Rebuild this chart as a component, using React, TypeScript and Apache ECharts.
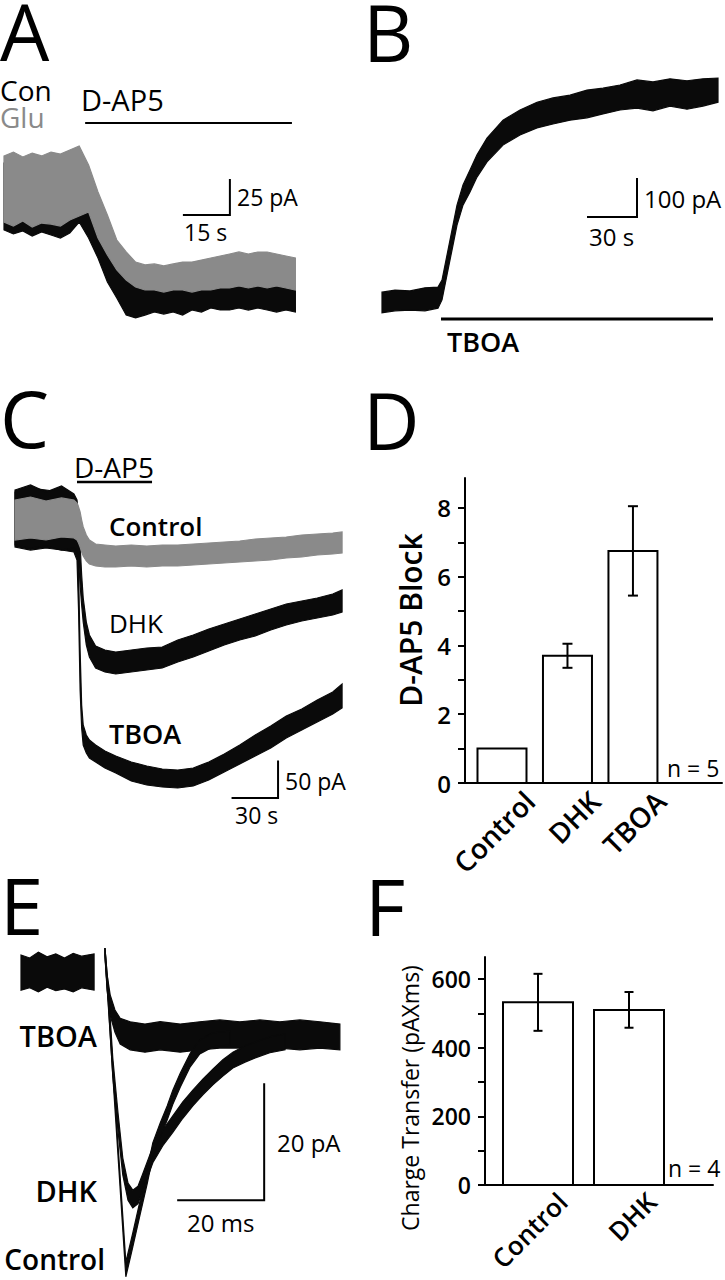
import { useEffect, useRef } from 'react';
import * as echarts from 'echarts';

// ---------- Panel A (time in s, current in pA) ----------
const tA = [0,3,6,9,12,15,18,21,24,27,30,33,36,39,42,45,48,51,54,57,60,63,66,69,72,75,78,81,84,87,90,93];
const gluHiA = [30.6,33.3,29.9,32.6,30.6,33.3,31.9,34.7,37.5,24.3,5.6,-10.4,-27.8,-36.1,-43.1,-45.1,-44.4,-45.8,-44.4,-43.1,-43.1,-41.7,-40.3,-38.9,-37.5,-36.1,-37.5,-36.1,-36.1,-37.5,-38.9,-40.3];
const gluLoA = [-15.3,-18.1,-14.6,-18.8,-16,-16.7,-18.1,-13.9,-11.1,-8.3,-26.4,-38.2,-48.6,-55.6,-60.4,-62.5,-62.5,-63.9,-62.5,-62.5,-63.9,-62.5,-62.5,-61.1,-61.1,-59.7,-61.1,-59.7,-61.1,-59.7,-61.1,-62.5];
const conHiA = [25.7,27.8,25,28.5,26.4,29.2,27.1,25,13.9,1.4,-12.5,-26.4,-40.3,-52.1,-58.3,-61.1,-62.5,-63.9,-62.5,-62.5,-61.1,-62.5,-59.7,-61.1,-59,-59.7,-59.7,-58.3,-59.7,-59,-59.7,-61.1];
const conLoA = [-20.8,-23.6,-21.5,-25,-22.2,-24.3,-26.4,-22.9,-15.3,-26.4,-40.3,-56.9,-68.1,-79.9,-81.9,-79.9,-77.8,-79.2,-77.8,-79.9,-76.4,-77.8,-75,-76.4,-76.4,-75,-76.4,-75,-76.4,-77.8,-76.4,-77.8];
const dap5A = [25.9, 91.9];
const dap5LevelA = 53.5;
const scaleA = { t: 72.1, i: -10.4, dt: 15, di: 25 };

// ---------- Panel B ----------
const tB = [0,7.8,16.8,25.8,33.6,36,39,42,45,48.6,52.8,57,63,72.6,82.8,93,102.6,112.8,123,132.6,142.8,153,162.6,172.8,183,192.6,201.6];
const tboaHiB = [33,38,36,44,46,64,128,192,256,308,346,385,428,474,500,520,531,538,551,556,564,577,572,580,575,580,582];
const tboaLoB = [-20,-15,-13,-15,-8,13,77,141,205,256,290,328,367,410,436,454,464,474,480,490,500,505,498,510,502,510,520];
const tboaBarB = [35.4, 198.6];
const tboaLevelB = -35.9;
const scaleB = { t: 153, i: 225.6, dt: 30, di: 100 };

// ---------- Panel C ----------
const tC = [0,10,20,30,38,40,41,42,43,44,46,48,52,58,65,75,85,95,105,115,125,135,145,155,165,175,185,195,205,211];
const ctrlHiC = [20,24,18.7,22.7,20,16,10.7,4,-6.7,-16,-26.7,-33.3,-38.7,-40,-41.3,-40,-41.3,-40,-40,-38.7,-37.3,-36,-34.7,-32,-30.7,-29.3,-26.7,-25.3,-24,-22.7];
const ctrlLoC = [-33.3,-30.7,-33.3,-29.3,-30.7,-33.3,-37.3,-42.7,-49.3,-54.7,-61.3,-65.3,-68,-69.3,-69.3,-68,-69.3,-68,-68,-66.7,-65.3,-64,-62.7,-61.3,-60,-57.3,-56,-53.3,-52,-50.7];
const dhkHiC = [33.3,40,30.7,38.7,28,20,0,-40,-80,-110.7,-142.7,-160,-174.7,-180,-182.7,-180,-177.3,-176,-166.7,-160,-152,-145.3,-138.7,-132,-125.3,-118.7,-114.7,-110.7,-105.3,-100];
const dhkLoC = [-40,-44,-41.3,-46.7,-44,-49.3,-60,-93.3,-120,-142.7,-173.3,-189.3,-204,-209.3,-212,-209.3,-206.7,-204,-196,-189.3,-181.3,-173.3,-166.7,-161.3,-153.3,-146.7,-141.3,-137.3,-133.3,-129.3];
const tboaHiC = [30.7,36,33.3,30.7,25.3,6.7,-73.3,-180,-253.3,-280,-293.3,-300,-306.7,-314.7,-321.3,-329.3,-334.7,-338.7,-340,-337.3,-329.3,-318.7,-306.7,-293.3,-281.3,-268,-258.7,-246.7,-236,-225.3];
const tboaLoC = [-42.7,-46.7,-44,-46.7,-49.3,-60,-126.7,-233.3,-284,-306.7,-317.3,-324,-329.3,-337.3,-344,-354.7,-360,-362.7,-364,-361.3,-353.3,-342.7,-332,-321.3,-310.7,-297.3,-286.7,-276,-265.3,-257.3];
const dap5C = [40, 88.4];
const dap5LevelC = 44;
const scaleC = { t: 169.7, i: -377.3, dt: 30, di: 50 };

// ---------- Panel D ----------
const catsD = ['Control', 'DHK', 'TBOA'];
const blockMean = [1.0, 3.7, 6.75];
const blockSem = [0, 0.35, 1.3];
const ticksD = [0,1,2,3,4,5,6,7,8];
const labelsD = [0,2,4,6,8];

// ---------- Panel E (time in ms, current in pA) ----------
const tBaseE = [0,2,4,6,8,10,12,14,16.8];
const baseHiE = [2.9,2.4,3.4,2.6,3.1,2.4,3.2,2.7,3.1];
const baseLoE = [-3.1,-2.7,-3.4,-2.6,-3.2,-2.9,-3.4,-2.7,-3.1];
const tCtrlE = [19.3,24.1,25.7,27.4,29.0,30.3,32.0,33.6,34.9,36.6,38.9,41.1,44.1,48.0];
const ctrlHiE = [4.1,-49.6,-44.6,-39.0,-33.8,-29.2,-25.8,-22.9,-20.2,-17.3,-13.9,-11.6,-10.4,-10.1];
const ctrlLoE = [3.1,-52.1,-47.0,-41.4,-36.2,-31.6,-28.2,-25.3,-22.6,-19.7,-16.2,-14.0,-12.8,-12.5];
const tDhkE = [19.3,20.0,21.1,22.3,23.4,24.6,25.7,26.9,28.0,30.3,32.6,34.9,37.2,39.5,41.8,44.1,46.4,48.7,51.5,54.5,57.2,60.7];
const dhkHiE = [4.1,-2.1,-14.7,-24.1,-31.8,-36.1,-37.3,-36.6,-34.5,-29.9,-27.0,-24.6,-22.2,-20.2,-18.3,-16.6,-15.0,-13.7,-12.6,-11.8,-11.1,-10.6];
const dhkLoE = [2.7,-4.4,-17.8,-27.2,-34.7,-39.0,-40.3,-39.6,-37.3,-32.6,-29.7,-27.4,-25.0,-22.9,-21.0,-19.3,-17.8,-16.4,-15.4,-14.5,-13.8,-13.3];
const tTboaE = [19.3,19.8,20.5,21.6,22.8,25.1,28.5,32.0,36.6,41.1,45.7,50.3,54.9,59.5,64.1,68.7,73.3];
const tboaHiE = [4.1,-0.5,-3.9,-6.5,-7.9,-8.5,-8.9,-8.5,-8.9,-8.5,-8.2,-8.5,-8.2,-8.5,-8.2,-8.5,-8.9];
const tboaLoE = [2.7,-3.1,-7.4,-10.3,-12.3,-13.3,-13.7,-13.3,-13.7,-13.3,-13.0,-13.0,-13.3,-13.0,-13.3,-13.0,-13.3];
const scaleE = { t: 55.9, i: -39, dt: 20, di: 20 };

// ---------- Panel F ----------
const catsF = ['Control', 'DHK'];
const chargeMean = [532, 510];
const chargeSem = [83, 52];
const ticksF = [0,100,200,300,400,500,600];
const labelsF = [0,200,400,600];

const FONT = "'Open Sans', 'Noto Sans', sans-serif";
const BLACK = '#0a0a0a';
const GRAY = '#8a8a8a';

function band(idx: number, t: number[], lo: number[], hi: number[], color: string, z: number) {
  const data = t.map((v, i) => [v, lo[i], hi[i]]);
  return {
    type: 'custom', xAxisIndex: idx, yAxisIndex: idx, data, z, silent: true,
    encode: { x: 0, y: [1, 2] },
    renderItem: (params: any, api: any) => {
      if (params.dataIndex !== 0) return null;
      const top = data.map((d) => api.coord([d[0], d[2]]));
      const bot = data.map((d) => api.coord([d[0], d[1]])).reverse();
      return {
        type: 'polygon',
        shape: { points: top.concat(bot) },
        style: { fill: color, stroke: color, lineWidth: 1.2, lineJoin: 'miter' },
      };
    },
  };
}

function poly(idx: number, pts: number[][], width: number, z = 10) {
  return {
    type: 'line', xAxisIndex: idx, yAxisIndex: idx, data: pts, symbol: 'none', silent: true, z,
    lineStyle: { color: '#000', width, cap: 'butt', join: 'miter' },
  };
}

function scaleBar(idx: number, s: { t: number; i: number; dt: number; di: number }) {
  return poly(idx, [[s.t - s.dt, s.i], [s.t, s.i], [s.t, s.i + s.di]], 2);
}

function bars(idx: number, mean: number[], w: number) {
  return {
    type: 'custom', xAxisIndex: idx, yAxisIndex: idx, silent: true, z: 5,
    data: mean.map((v, i) => [i + 1, v]),
    renderItem: (_p: any, api: any) => {
      const x = api.value(0), v = api.value(1);
      const p0 = api.coord([x, 0]);
      const p1 = api.coord([x, v]);
      return {
        type: 'rect',
        shape: { x: p0[0] - w / 2, y: p1[1], width: w, height: p0[1] - p1[1] },
        style: { fill: '#fff', stroke: '#000', lineWidth: 2 },
      };
    },
  };
}

function errBars(idx: number, mean: number[], sem: number[], cap: number) {
  return {
    type: 'custom', xAxisIndex: idx, yAxisIndex: idx, silent: true, z: 6,
    data: mean.map((v, i) => [i + 1, v - sem[i], v + sem[i], sem[i]]).filter((d) => d[3] > 0),
    renderItem: (_p: any, api: any) => {
      const x = api.value(0);
      const a = api.coord([x, api.value(1)]);
      const b = api.coord([x, api.value(2)]);
      const st = { stroke: '#000', lineWidth: 2 };
      const h = cap / 2;
      return {
        type: 'group',
        children: [
          { type: 'line', shape: { x1: a[0], y1: a[1], x2: b[0], y2: b[1] }, style: st },
          { type: 'line', shape: { x1: a[0] - h, y1: a[1], x2: a[0] + h, y2: a[1] }, style: st },
          { type: 'line', shape: { x1: b[0] - h, y1: b[1], x2: b[0] + h, y2: b[1] }, style: st },
        ],
      };
    },
  };
}

function txt(text: string, x: number, y: number, size: number, o: any = {}) {
  return {
    type: 'text', x, y, rotation: o.rotation || 0, z: 100, silent: true,
    style: {
      text, fontSize: size, fontFamily: FONT, fontWeight: o.weight || 'normal',
      fill: o.color || '#000',
      align: o.align || 'left', textAlign: o.align || 'left',
      verticalAlign: 'middle', textVerticalAlign: 'middle',
    },
  };
}

function hiddenAxes(idx: number, xmin: number, xmax: number, ymin: number, ymax: number) {
  return {
    x: { type: 'value', gridIndex: idx, min: xmin, max: xmax, show: false },
    y: { type: 'value', gridIndex: idx, min: ymin, max: ymax, show: false },
  };
}

function buildOption() {
  const gridBase = { containLabel: false, outerBoundsMode: 'none' };
  const grids = [
    { ...gridBase, left: 4, top: 119.36, width: 292, height: 217.44 },
    { ...gridBase, left: 382, top: 59.3, width: 336, height: 265.2 },
    { ...gridBase, left: 15, top: 470, width: 328, height: 337.5 },
    { ...gridBase, left: 465, top: 478, width: 257, height: 305 },
    { ...gridBase, left: 21, top: 942.75, width: 320, height: 339.3 },
    { ...gridBase, left: 485, top: 957, width: 228, height: 228 },
  ];
  const aA = hiddenAxes(0, 0, 93.2, -95, 56);
  const aB = hiddenAxes(1, 0, 201.6, -50, 630);
  const aC = hiddenAxes(2, 0, 211.6, -390, 60);
  const aE = hiddenAxes(4, 0, 73.56, -53, 5);

  const axLine = { show: true, onZero: false, lineStyle: { color: '#000', width: 2 } };
  const xD = {
    type: 'value', gridIndex: 3, min: 0.435, max: 4.36, axisLine: axLine,
    axisTick: { show: false }, splitLine: { show: false },
    axisLabel: {
      customValues: [1.42, 2.42, 3.42], rotate: 45, margin: 13, fontSize: 28,
      fontFamily: FONT, fontWeight: 600, color: '#000',
      formatter: (v: number) => catsD[Math.round(v - 1.42)] || '',
    },
  };
  const yD = {
    type: 'value', gridIndex: 3, min: 0, max: 8.87, axisLine: axLine,
    axisTick: { show: true, customValues: ticksD, length: 7, lineStyle: { color: '#000', width: 2 } },
    splitLine: { show: false },
    axisLabel: { customValues: labelsD, margin: 14, fontSize: 24, fontFamily: FONT, fontWeight: 600, color: '#000' },
  };
  const xF = {
    type: 'value', gridIndex: 5, min: 0.4176, max: 2.923, axisLine: axLine,
    axisTick: { show: false }, splitLine: { show: false },
    axisLabel: {
      customValues: [1.27, 2.25], rotate: 45, margin: 12, fontSize: 26,
      fontFamily: FONT, fontWeight: 600, color: '#000',
      formatter: (v: number) => catsF[Math.round(v - 1.26)] || '',
    },
  };
  const yF = {
    type: 'value', gridIndex: 5, min: 0, max: 664, axisLine: axLine,
    axisTick: { show: true, customValues: ticksF, length: 7, lineStyle: { color: '#000', width: 2 } },
    splitLine: { show: false },
    axisLabel: { customValues: labelsF, margin: 14, fontSize: 23, fontFamily: FONT, fontWeight: 600, color: '#000' },
  };

  const series: any[] = [
    // A
    band(0, tA, conLoA, conHiA, BLACK, 2),
    band(0, tA, gluLoA, gluHiA, GRAY, 3),
    poly(0, [[dap5A[0], dap5LevelA], [dap5A[1], dap5LevelA]], 2),
    scaleBar(0, scaleA),
    // B
    band(1, tB, tboaLoB, tboaHiB, BLACK, 2),
    poly(1, [[tboaBarB[0], tboaLevelB], [tboaBarB[1], tboaLevelB]], 3),
    scaleBar(1, scaleB),
    // C
    band(2, tC, tboaLoC, tboaHiC, BLACK, 2),
    band(2, tC, dhkLoC, dhkHiC, BLACK, 2),
    band(2, tC, ctrlLoC, ctrlHiC, GRAY, 3),
    poly(2, [[dap5C[0], dap5LevelC], [dap5C[1], dap5LevelC]], 2.5),
    scaleBar(2, scaleC),
    // D
    bars(3, blockMean, 49),
    errBars(3, blockMean, blockSem, 10),
    // E
    band(4, tBaseE, baseLoE, baseHiE, BLACK, 2),
    band(4, tTboaE, tboaLoE, tboaHiE, BLACK, 2),
    band(4, tDhkE, dhkLoE, dhkHiE, BLACK, 2),
    band(4, tCtrlE, ctrlLoE, ctrlHiE, BLACK, 2),
    scaleBar(4, scaleE),
    // F
    bars(5, chargeMean, 70),
    errBars(5, chargeMean, chargeSem, 9),
  ];

  const graphic = [
    txt('A', 0, 31, 78),
    txt('B', 363, 32, 78),
    txt('C', 0, 418, 78),
    txt('D', 363, 420, 78),
    txt('E', 0, 905, 78),
    txt('F', 365, 906, 78),
    // A
    txt('Con', 0, 90, 28),
    txt('Glu', 0, 117, 28, { color: GRAY }),
    txt('D-AP5', 81, 99, 29),
    txt('25 pA', 237, 197, 23),
    txt('15 s', 184, 232, 23),
    // B
    txt('100 pA', 644, 198, 24),
    txt('30 s', 589, 236, 24),
    txt('TBOA', 447, 341, 27, { weight: 600 }),
    // C
    txt('D-AP5', 74, 467, 28),
    txt('Control', 109, 526, 26, { weight: 600 }),
    txt('DHK', 109, 623, 26),
    txt('TBOA', 109, 733, 27, { weight: 600 }),
    txt('50 pA', 285, 781, 23),
    txt('30 s', 235, 815, 23),
    // D
    txt('n = 5', 667, 768, 23),
    txt('D-AP5 Block', 410, 620, 30, { align: 'center', rotation: Math.PI / 2, weight: 600 }),
    // E
    txt('TBOA', 97, 1035, 29, { align: 'right', weight: 600 }),
    txt('DHK', 97, 1190, 29, { align: 'right', weight: 600 }),
    txt('Control', 105, 1259, 28, { align: 'right', weight: 600 }),
    txt('20 pA', 277, 1142, 24),
    txt('20 ms', 187, 1222, 24),
    // F
    txt('n = 4', 668, 1168, 23),
    txt('Charge Transfer (pAXms)', 410, 1098, 23, { align: 'center', rotation: Math.PI / 2 }),
  ];

  return {
    animation: false,
    backgroundColor: '#fff',
    grid: grids,
    xAxis: [aA.x, aB.x, aC.x, xD, aE.x, xF],
    yAxis: [aA.y, aB.y, aC.y, yD, aE.y, yF],
    series,
    graphic,
  };
}

export default function App() {
  const ref = useRef<HTMLDivElement>(null);
  useEffect(() => {
    const chart = echarts.init(ref.current as HTMLDivElement, null, { renderer: 'svg', width: 725, height: 1280 });
    chart.setOption(buildOption() as any);
    return () => chart.dispose();
  }, []);
  return (
    <div
      ref={ref}
      style={{ position: 'absolute', left: 0, top: 0, width: 725, height: 1280, background: '#fff' }}
    />
  );
}
